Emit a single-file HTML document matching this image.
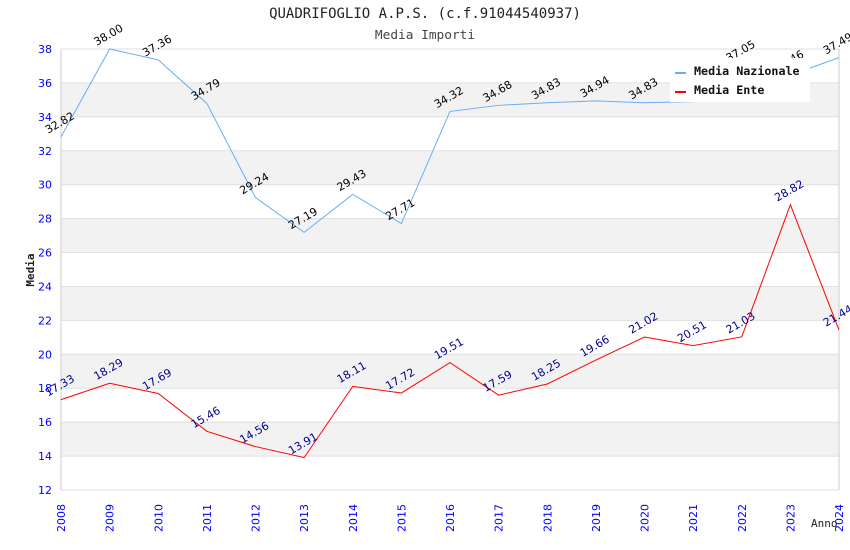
<!DOCTYPE html>
<html><head><meta charset="utf-8"><style>
body{margin:0;background:#fff}
svg{display:block;font-family:"DejaVu Sans","Liberation Sans",sans-serif}
</style></head><body>
<svg id="c" width="850" height="550">
<text x="425" y="18" text-anchor="middle" font-family="DejaVu Sans Mono,monospace" font-size="14" fill="#222">QUADRIFOGLIO A.P.S. (c.f.91044540937)</text>
<text x="425" y="39" text-anchor="middle" font-family="DejaVu Sans Mono,monospace" font-size="12.8" fill="#444">Media Importi</text>
<g id="grid"></g>
<g id="series"></g>
<g id="labels"></g>
<text transform="translate(34,270) rotate(-90)" text-anchor="middle" font-family="DejaVu Sans Mono,monospace" font-size="11" font-weight="bold" fill="#222">Media</text>
<text x="811" y="527" font-family="DejaVu Sans Mono,monospace" font-size="11" fill="#222">Anno</text>
<g>
<rect x="670" y="58" width="140" height="44" fill="#fff"/>
<g><rect x="675" y="72" width="11" height="2" fill="#6aaef0"/><text x="694" y="75" font-family="DejaVu Sans Mono,monospace" font-size="11.7" font-weight="bold" fill="#111">Media Nazionale</text></g>
<g><rect x="675" y="91" width="11" height="2" fill="#f00"/><text x="694" y="94" font-family="DejaVu Sans Mono,monospace" font-size="11.7" font-weight="bold" fill="#111">Media Ente</text></g>
</g>
</svg>
<script>
const years=[2008,2009,2010,2011,2012,2013,2014,2015,2016,2017,2018,2019,2020,2021,2022,2023,2024];
const nazionale=[32.82,38.00,37.36,34.79,29.24,27.19,29.43,27.71,34.32,34.68,34.83,34.94,34.83,34.9,37.05,36.46,37.49];
const ente=[17.33,18.29,17.69,15.46,14.56,13.91,18.11,17.72,19.51,17.59,18.25,19.66,21.02,20.51,21.03,28.82,21.44];
const yTicks=[12,14,16,18,20,22,24,26,28,30,32,34,36,38];
const NS="http://www.w3.org/2000/svg";
const x0=61,x1=839,y0=490,y1=49,vmin=12,vmax=38;
const X=i=>x0+(x1-x0)*i/(years.length-1);
const Y=v=>y0-(v-vmin)/(vmax-vmin)*(y0-y1);
function mk(p,t,a){const e=document.createElementNS(NS,t);for(const k in a)e.setAttribute(k,a[k]);p.appendChild(e);return e;}
const g=document.getElementById('grid');
for(let i=0;i<yTicks.length-1;i++){if(i%2===1){const r=mk(g,'rect',{x:x0,y:Y(yTicks[i+1]),width:x1-x0,height:Y(yTicks[i])-Y(yTicks[i+1]),fill:'#f2f2f2'});

}}
yTicks.forEach(v=>{const l=mk(g,'line',{x1:x0,x2:x1,y1:Y(v),y2:Y(v),stroke:'#e0e0e0'});


const t=mk(g,'text',{x:52,y:Y(v)+4,'text-anchor':'end','font-size':11,fill:'#00f'});t.textContent=v;

});
mk(g,'line',{x1:x0,x2:x0,y1:y1,y2:y0,stroke:'#ccc'});mk(g,'line',{x1:x1,x2:x1,y1:y1,y2:y0,stroke:'#ccc'});
years.forEach((yr,i)=>{const t=mk(g,'text',{transform:`translate(${X(i)+4},${y0+28}) rotate(-90)`,'text-anchor':'middle','font-size':11,fill:'#00f'});t.textContent=yr;

});
const s=document.getElementById('series'),lb=document.getElementById('labels');
function draw(d,col,lc,name){const p=mk(s,'polyline',{points:d.map((v,i)=>X(i)+','+Y(v)).join(' '),fill:'none',stroke:col,'stroke-width':1});


d.forEach((v,i)=>{const t=mk(lb,'text',{transform:`translate(${X(i)-13},${Y(v)-3}) rotate(-30)`,'text-anchor':'start','font-size':11,fill:lc});t.textContent=v.toFixed(2);

});}
draw(nazionale,'#6aaef0','#000','series-media-nazionale');
draw(ente,'#f00','#00008b','series-media-ente');
</script>
</body></html>
